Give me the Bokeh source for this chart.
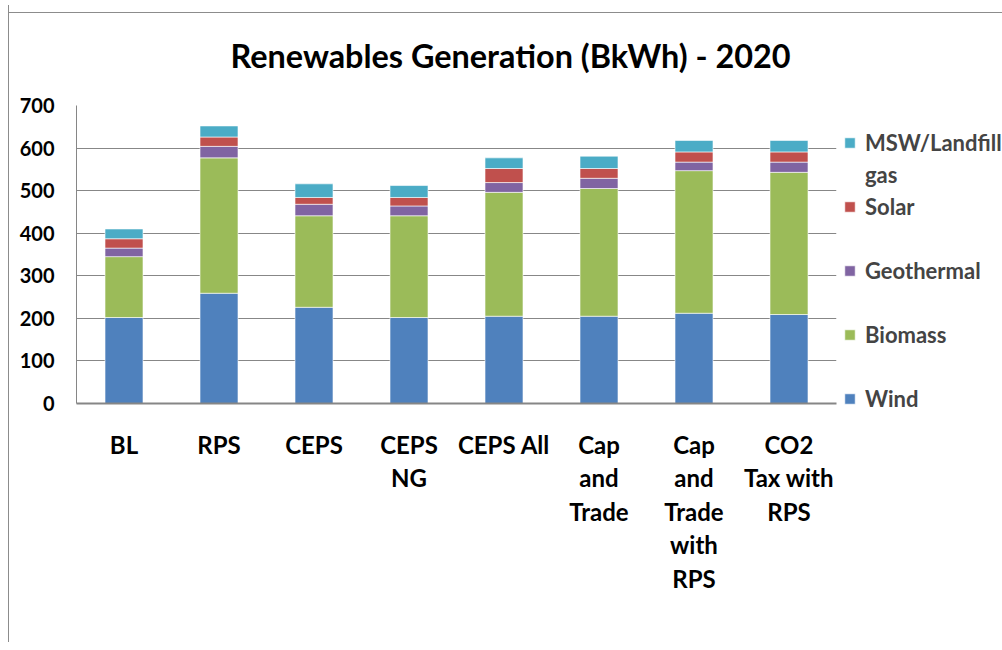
from bokeh.plotting import figure
from bokeh.models import (FactorRange, Range1d, FixedTicker, Legend, LegendItem,
                          ColumnDataSource)
from bokeh.embed import file_html
from bokeh.resources import INLINE

# ---- data ----
categories = ["BL", "RPS", "CEPS", "CEPS\nNG", "CEPS All", "Cap\nand\nTrade",
              "Cap\nand\nTrade\nwith\nRPS", "CO2\nTax with\nRPS"]
wind = [202, 259, 226, 202, 205, 205, 212, 209]
biomass = [143, 318, 215, 239, 291, 300, 335, 334]
geothermal = [20, 27, 27, 23, 23, 24, 20, 24]
solar = [22, 22, 16, 20, 33, 23, 24, 24]
msw = [23, 26, 32, 28, 25, 29, 27, 27]
series_keys = ["wind", "biomass", "geothermal", "solar", "msw"]
series_names = ["Wind", "Biomass", "Geothermal", "Solar", "MSW/Landfill"]
colors = ["#4F81BD", "#9BBB59", "#8064A2", "#C0504D", "#4BACC6"]
yticks = [0, 100, 200, 300, 400, 500, 600, 700]
title_text = "Renewables Generation (BkWh) - 2020"

FONT = "Lato"

source = ColumnDataSource(dict(cat=categories, wind=wind, biomass=biomass,
                               geothermal=geothermal, solar=solar, msw=msw))

p = figure(x_range=FactorRange(*categories), y_range=Range1d(0, 700),
           frame_width=760, frame_height=298, output_backend="svg",
           toolbar_location=None,
           min_border_left=67, min_border_right=166, min_border_top=100,
           min_border_bottom=239)
p.margin = (5, 0, 0, 8)
p.styles = {
    "border-left": "1px solid #8c8c8c",
    "background-image": "linear-gradient(#8c8c8c, #8c8c8c)",
    "background-size": "100% 1px",
    "background-position": "0 7px",
    "background-repeat": "no-repeat",
}
p.x_range.range_padding = 0
p.outline_line_color = None
p.background_fill_color = "white"
p.border_fill_color = None

renderers = p.vbar_stack(series_keys, x="cat", width=0.4, source=source,
                         fill_color=colors, line_color="white", line_alpha=0.6,
                         line_width=1)
# invisible renderer used only for the legend's text-only lines
blank = p.vbar(x=[], top=[], width=0.4, fill_alpha=0, line_alpha=0)

# axes
p.yaxis.ticker = FixedTicker(ticks=yticks)
p.ygrid.ticker = FixedTicker(ticks=yticks)
p.xgrid.grid_line_color = None
p.ygrid.grid_line_color = "#878787"
p.ygrid.grid_line_width = 1
for ax in (p.xaxis, p.yaxis):
    ax.major_tick_out = 0
    ax.major_tick_in = 0
    ax.minor_tick_out = 0
    ax.minor_tick_in = 0
    ax.axis_line_color = "#868686"
    ax.major_label_text_font = FONT
    ax.major_label_text_font_style = "bold"
    ax.major_label_text_color = "black"
p.yaxis.major_label_text_font_size = "20px"
p.xaxis.major_label_text_font_size = "24px"
p.xaxis.axis_line_width = 2
p.yaxis.axis_line_width = 1
p.yaxis.major_label_standoff = 22
p.xaxis.major_label_standoff = 26
p.xaxis.major_label_text_line_height = 1.16

# title
p.title.text = title_text
p.title.text_font = FONT
p.title.text_font_style = "bold"
p.title.text_font_size = "32.4px"
p.title.text_color = "black"
p.title.align = "left"
p.title.offset = 154
p.title.vertical_align = "top"
p.title.standoff = 57

# legend (top to bottom: MSW/Landfill gas, Solar, Geothermal, Biomass, Wind)
items = [
    LegendItem(label=series_names[4], renderers=[renderers[4]]),
    LegendItem(label="gas", renderers=[blank]),
    LegendItem(label=series_names[3], renderers=[renderers[3]]),
    LegendItem(label=" ", renderers=[blank]),
    LegendItem(label=series_names[2], renderers=[renderers[2]]),
    LegendItem(label="  ", renderers=[blank]),
    LegendItem(label=series_names[1], renderers=[renderers[1]]),
    LegendItem(label="   ", renderers=[blank]),
    LegendItem(label=series_names[0], renderers=[renderers[0]]),
]
legend = Legend(items=items, location=(7, -11))
legend.border_line_color = None
legend.background_fill_alpha = 0
legend.glyph_width = 13
legend.glyph_height = 13
legend.label_standoff = 9
legend.label_text_font = FONT
legend.label_text_font_style = "bold"
legend.label_text_font_size = "22px"
legend.label_height = 32
legend.spacing = 0
legend.padding = 0
legend.margin = 0
p.add_layout(legend, "right")

open("out.html", "w").write(file_html(p, INLINE))
